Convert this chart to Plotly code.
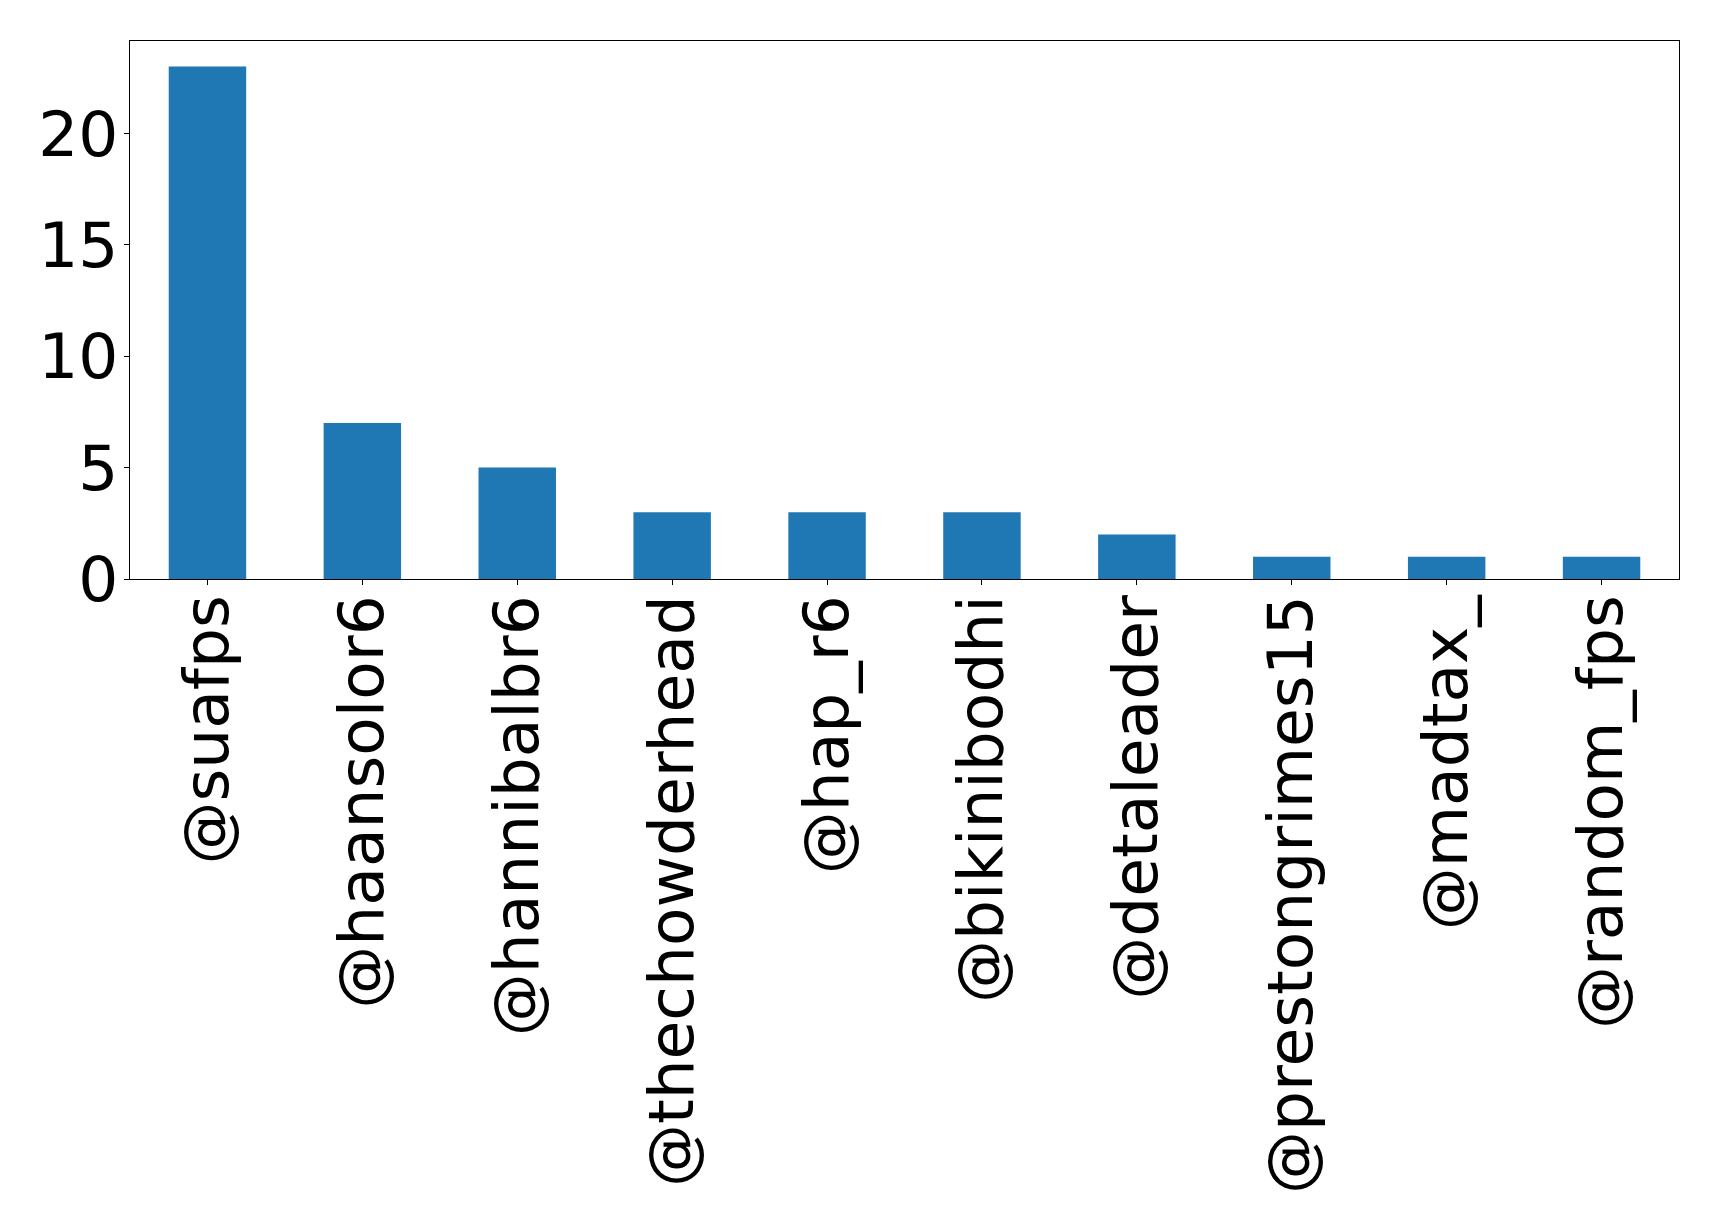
import plotly.graph_objects as go

users = ["@suafps", "@haansolor6", "@hannibalbr6", "@thechowderhead", "@hap_r6",
         "@bikinibodhi", "@detaleader", "@prestongrimes15", "@madtax_", "@random_fps"]
counts = [23, 7, 5, 3, 3, 3, 2, 1, 1, 1]
y_ticks = [0, 5, 10, 15, 20]

fig = go.Figure(go.Bar(x=users, y=counts, width=0.5, marker=dict(color="#1f77b4", line=dict(width=0))))

font = dict(family="DejaVu Sans", size=63, color="black")
fig.update_layout(
    width=1719, height=1222,
    margin=dict(l=129.5, r=39.5, t=40.5, b=642.5),
    paper_bgcolor="white", plot_bgcolor="white",
    showlegend=False,
    font=font,
)
fig.update_xaxes(
    range=[-0.5, 9.5], tickangle=-90, tickfont=font,
    showline=True, linecolor="black", linewidth=1, mirror=True,
    ticks="outside", ticklen=5, tickcolor="black", showgrid=False,
    ticklabelstandoff=-15,
)
fig.update_yaxes(
    range=[0, 24.15], tickvals=y_ticks, tickfont=font,
    showline=True, linecolor="black", linewidth=1, mirror=True,
    ticks="outside", ticklen=5, tickcolor="black", showgrid=False, zeroline=False,
    ticklabelstandoff=-7,
)
fig.write_html("out.html")
